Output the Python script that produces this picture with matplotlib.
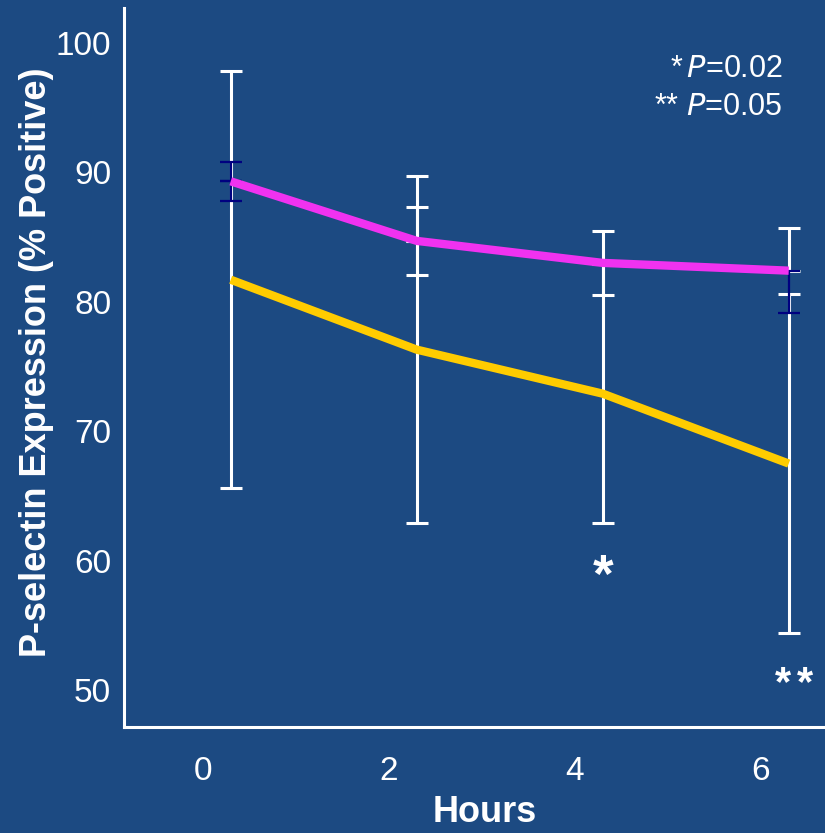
import numpy as np
import matplotlib.pyplot as plt

plt.rcParams['font.family'] = ['Liberation Sans', 'DejaVu Sans']

hours = np.array([0, 2, 4, 6])
shift = 0.3

pink_mean = np.array([89.3, 84.7, 83.0, 82.4])
pink_err = np.array([1.5, 2.6, 2.5, 3.3])
gold_mean = np.array([81.7, 76.3, 72.9, 67.5])
gold_err = np.array([16.1, 13.4, 10.0, 13.1])

# colours of the upper / lower half of each pink error bar
pink_up_col = ['#000080', 'white', 'white', 'white']
pink_lo_col = ['#000080', 'white', 'white', '#000080']

bg = '#1c4a82'
pink = '#f032f0'
gold = '#ffcc00'

fig = plt.figure(figsize=(8.25, 8.33), dpi=100, facecolor=bg)
ax = fig.add_axes([0.150, 0.127, 0.85, 0.863], facecolor=bg)

x = hours + shift

ax.errorbar(x, gold_mean, yerr=gold_err, fmt='none', ecolor='white',
            elinewidth=2.2, capsize=8, capthick=2.2, zorder=2)

for xi, m, e, cu, cl in zip(x, pink_mean, pink_err, pink_up_col, pink_lo_col):
    lw = 1.6 if cu != 'white' else 2.2
    ax.errorbar([xi], [m], yerr=[[0], [e]], fmt='none', ecolor=cu,
                elinewidth=lw, capsize=8, capthick=lw, zorder=3)
    lw = 1.6 if cl != 'white' else 2.2
    ax.errorbar([xi], [m], yerr=[[e], [0]], fmt='none', ecolor=cl,
                elinewidth=lw, capsize=8, capthick=lw, zorder=3)

ax.plot(x, pink_mean, color=pink, lw=6, solid_capstyle='butt', zorder=4)
ax.plot(x, gold_mean, color=gold, lw=6, solid_capstyle='butt', zorder=4)

ax.set_xlim(-0.85, 6.69)
ax.set_ylim(47.14, 102.66)
ax.set_xticks(hours)
ax.set_yticks([50, 60, 70, 80, 90, 100])
ax.tick_params(axis='both', length=0, colors='white', labelsize=24)
ax.tick_params(axis='x', pad=21)
ax.tick_params(axis='y', pad=9)

for s in ['top', 'right']:
    ax.spines[s].set_visible(False)
for s in ['left', 'bottom']:
    ax.spines[s].set_color('white')
    ax.spines[s].set_linewidth(2.2)

fig.text(37 / 825, 1 - 362 / 833, 'P-selectin Expression (% Positive)',
         rotation=90, ha='center', va='center', color='white',
         fontsize=26, fontweight='bold')
fig.text(485 / 825, 1 - 812 / 833, 'Hours', ha='center', va='center',
         color='white', fontsize=26, fontweight='bold')

ax.text(0.940, 0.904, '*$\\,\\mathit{P}$=0.02', transform=ax.transAxes,
        ha='right', va='baseline', color='white', fontsize=22)
ax.text(0.940, 0.851, '** $\\mathit{P}$=0.05', transform=ax.transAxes,
        ha='right', va='baseline', color='white', fontsize=22)

# significance marks under the gold series
ax.text(x[2], 57.6, '*', ha='center', va='baseline', color='white',
        fontsize=38, fontweight='bold')
for dx in (-6, 16):
    ax.annotate('*', (x[3], 49.6), xytext=(dx, 0), textcoords='offset pixels',
                ha='center', va='baseline', color='white',
                fontsize=30, fontweight='bold')

fig.savefig('out.png', dpi=100, facecolor=bg)
